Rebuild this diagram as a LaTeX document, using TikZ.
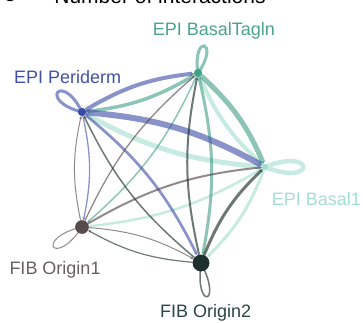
\documentclass[tikz,border=0pt]{standalone}
\usepackage{fontspec}
\setmainfont{Liberation Sans}
\usetikzlibrary{arrows.meta}
\definecolor{cP}{HTML}{3A4BA5}
\definecolor{cT}{HTML}{45A088}
\definecolor{cB}{HTML}{A5DDCF}
\definecolor{cO}{HTML}{574B4B}
\definecolor{cQ}{HTML}{1E302B}
\definecolor{tP}{HTML}{3F51A8}
\definecolor{tT}{HTML}{4BA38C}
\definecolor{tB}{HTML}{A5DDCF}
\definecolor{tO}{HTML}{686060}
\definecolor{tQ}{HTML}{2B4540}
\tikzset{
  dot/.style={circle, inner sep=0pt, draw=none},
  lbl/.style={anchor=base west, inner sep=0pt, font=\fontsize{18}{21}\selectfont},
  lk/.style={bend left=12, -{Stealth[length=3pt,width=2.8pt]}},
  eP/.style={draw=cP, opacity=0.6},
  eT/.style={draw=cT, opacity=0.62},
  eB/.style={draw=cB, opacity=0.62},
  eO/.style={draw=cO, opacity=0.65},
  eQ/.style={draw=cQ, opacity=0.65},
}
\begin{document}
\begin{tikzpicture}[x=1pt,y=1pt]
\useasboundingbox (0,0) rectangle (363,322);
% nodes (positions)
\node[dot, minimum size=8pt, fill=cP] (P) at (82,210) {};
\node[dot, minimum size=8pt, fill=cT] (T) at (198,249) {};
\node[dot, minimum size=6pt, fill=cB] (B) at (265,155) {};
\node[dot, minimum size=13.4pt, fill=cO] (O) at (82,95) {};
\node[dot, minimum size=16.6pt, fill=cQ] (Q) at (201,59) {};
% mint edges (EPI Basal1)
\draw[eB, line width=4.5] (B.center) .. controls +(22:55) and +(-22:55) .. (B.center);
\draw[eB, lk, line width=5] (B) to (P);
\draw[eB, lk, line width=4] (B) to (T);
\draw[eB, lk, line width=2.5] (B) to (O);
\draw[eB, lk, line width=3] (B) to (Q);
% teal edges (EPI BasalTagln)
\draw[eT, line width=3] (T.center) .. controls +(55:40) and +(99:40) .. (T.center);
\draw[eT, lk, line width=3.5] (T) to (P);
\draw[eT, lk, line width=5] (T) to (B);
\draw[eT, lk, line width=1.5] (T) to (O);
\draw[eT, lk, line width=3] (T) to (Q);
% blue edges (EPI Periderm)
\draw[eP, line width=3] (P.center) .. controls +(116:46) and +(166:46) .. (P.center);
\draw[eP, lk, line width=4] (P) to (T);
\draw[eP, lk, line width=6] (P) to (B);
\draw[eP, lk, line width=1.3] (P) to (O);
\draw[eP, lk, line width=2.7] (P) to (Q);
% gray edges (FIB Origin1)
\draw[eO, line width=1] (O.center) .. controls +(193:50) and +(237:50) .. (O.center);
\draw[eO, lk, line width=1] (O) to (P);
\draw[eO, lk, line width=1.3] (O) to (T);
\draw[eO, lk, line width=2] (O) to (B);
\draw[eO, lk, line width=1] (O) to (Q);
% dark edges (FIB Origin2)
\draw[eQ, line width=1.5] (Q.center) .. controls +(262:48) and +(298:48) .. (Q.center);
\draw[eQ, lk, line width=1.5] (Q) to (P);
\draw[eQ, lk, line width=2] (Q) to (T);
\draw[eQ, lk, line width=3] (Q) to (B);
\draw[eQ, lk, line width=1.2] (Q) to (O);
% redraw dots on top
\node[dot, minimum size=8pt, fill=cP] at (P) {};
\node[dot, minimum size=8pt, fill=cT] at (T) {};
\node[dot, minimum size=6pt, fill=cB] at (B) {};
\node[dot, minimum size=13.4pt, fill=cO] at (O) {};
\node[dot, minimum size=16.6pt, fill=cQ] at (Q) {};
% labels
\node[lbl, text=tT] (lT) at (152.7,286) {EPI BasalTagln};
\node[lbl, text=tP] (lP) at (14,239) {EPI Periderm};
\node[lbl, text=tB] (lB) at (271.7,117) {EPI Basal1};
\node[lbl, text=tO] (lO) at (9.3,48) {FIB Origin1};
\node[lbl, text=tQ] (lQ) at (160,4.7) {FIB Origin2};
% title (cut off at top, as in the reference)
\node[anchor=base, inner sep=0pt, font=\fontsize{21}{25}\selectfont] (title) at (160,318.5) {Number of interactions};
\node[anchor=base west, inner sep=0pt, font=\bfseries\fontsize{21}{25}\selectfont] (tag) at (4,320.3) {c};
\end{tikzpicture}
\end{document}
